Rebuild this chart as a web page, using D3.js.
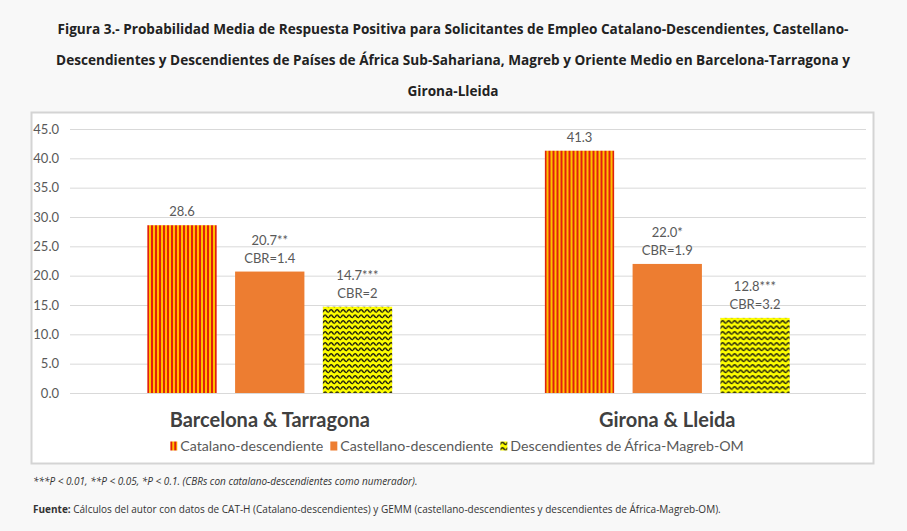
<!DOCTYPE html>
<html>
<head>
<meta charset="utf-8">
<script src="https://cdn.jsdelivr.net/npm/d3@7"></script>
<style>
  body { margin: 0; background: #f8f8f8; }
  svg { display: block; }
</style>
</head>
<body>
<div id="chart"></div>
<script>
// data
var groups = ["Barcelona & Tarragona", "Girona & Lleida"];
var series = ["Catalano-descendiente", "Castellano-descendiente", "Descendientes de África-Magreb-OM"];
var catalano = [28.6, 41.3];
var castellano = [20.7, 22.0];
var africa = [14.7, 12.8];
var castellanoSig = ["**", "*"];
var africaSig = ["***", "***"];
var castellanoCBR = ["1.4", "1.9"];
var africaCBR = ["2", "3.2"];
var yTicks = [0, 5, 10, 15, 20, 25, 30, 35, 40, 45];

var titleLines = [
  "Figura 3.- Probabilidad Media de Respuesta Positiva para Solicitantes de Empleo Catalano-Descendientes, Castellano-",
  "Descendientes y Descendientes de Países de África Sub-Sahariana, Magreb y Oriente Medio en Barcelona-Tarragona y",
  "Girona-Lleida"
];

var W = 907, H = 531;
var svg = d3.select("#chart").append("svg").attr("width", W).attr("height", H);

// patterns
var defs = svg.append("defs");
var stripes = defs.append("pattern").attr("id", "stripes")
  .attr("patternUnits", "userSpaceOnUse").attr("width", 4).attr("height", 4);
stripes.append("rect").attr("width", 4).attr("height", 4).attr("fill", "#ffc000");
stripes.append("rect").attr("width", 2).attr("height", 4).attr("fill", "#e0200f");

var wave = defs.append("pattern").attr("id", "wave")
  .attr("patternUnits", "userSpaceOnUse").attr("width", 6).attr("height", 5.5);
wave.append("rect").attr("width", 6).attr("height", 5.5).attr("fill", "#ffff00");
wave.append("path").attr("d", "M0,3.8 Q1.5,0.8 3,2 Q4.5,4.8 6,3.8")
  .attr("fill", "none").attr("stroke", "#111").attr("stroke-width", 1.3);

var fills = ["url(#stripes)", "#ed7d31", "url(#wave)"];

// title
svg.append("g").selectAll("text").data(titleLines).enter().append("text")
  .attr("x", 453).attr("y", function(d, i) { return 34 + i * 31; })
  .attr("text-anchor", "middle")
  .style("font-family", "'Open Sans', sans-serif")
  .style("font-weight", 700)
  .style("font-size", "13.6px")
  .style("fill", "#222")
  .text(function(d) { return d; });

// chart box
svg.append("rect").attr("x", 31.5).attr("y", 112.5).attr("width", 842).attr("height", 351)
  .attr("fill", "#fff").attr("stroke", "#d4d4d4").attr("stroke-width", 2);

// scales
var x0 = d3.scaleBand().domain(groups).range([71, 866]);
var x1 = d3.scaleBand().domain(series).range([0, x0.bandwidth()])
  .paddingInner(0.21).paddingOuter(0.87);
var y = d3.scaleLinear().domain([0, 45]).range([393, 129]);

// gridlines + y labels
var yAxis = svg.append("g").attr("transform", "translate(70,0)")
  .call(d3.axisLeft(y).tickValues(yTicks).tickSize(-796).tickFormat(d3.format(".1f")));
yAxis.select(".domain").remove();
yAxis.selectAll(".tick line").attr("stroke", "#d9d9d9").attr("stroke-width", 1);
yAxis.selectAll(".tick text").attr("x", -11)
  .style("font-family", "Lato, sans-serif").style("font-size", "13px").style("fill", "#595959");

// bars
var rows = groups.map(function(g, i) {
  return [
    {g: g, s: series[0], v: catalano[i], l1: catalano[i].toFixed(1), l2: null},
    {g: g, s: series[1], v: castellano[i], l1: castellano[i].toFixed(1) + castellanoSig[i], l2: "CBR=" + castellanoCBR[i]},
    {g: g, s: series[2], v: africa[i], l1: africa[i].toFixed(1) + africaSig[i], l2: "CBR=" + africaCBR[i]}
  ];
});

var grp = svg.selectAll(".grp").data(rows).enter().append("g")
  .attr("transform", function(d) { return "translate(" + x0(d[0].g) + ",0)"; });

grp.selectAll("rect").data(function(d) { return d; }).enter().append("rect")
  .attr("x", function(d) { return x1(d.s); })
  .attr("y", function(d) { return y(d.v); })
  .attr("width", x1.bandwidth())
  .attr("height", function(d) { return y(0) - y(d.v); })
  .attr("fill", function(d, i) { return fills[i]; });

var lab = grp.selectAll(".lab").data(function(d) { return d; }).enter().append("text")
  .attr("text-anchor", "middle")
  .attr("x", function(d) { return x1(d.s) + x1.bandwidth() / 2; })
  .attr("y", function(d) { return y(d.v) - (d.l2 ? 27 : 9); })
  .style("font-family", "Lato, sans-serif").style("font-size", "13px").style("fill", "#595959");
lab.append("tspan").text(function(d) { return d.l1; });
lab.filter(function(d) { return d.l2; }).append("tspan")
  .attr("x", function(d) { return x1(d.s) + x1.bandwidth() / 2; })
  .attr("dy", 18).text(function(d) { return d.l2; });

// category labels
svg.append("g").selectAll("text").data(groups).enter().append("text")
  .attr("x", function(d) { return x0(d) + x0.bandwidth() / 2; })
  .attr("y", 427).attr("text-anchor", "middle")
  .style("font-family", "Lato, sans-serif").style("font-weight", 700)
  .style("font-size", "20px").style("fill", "#404040")
  .text(function(d) { return d; });

// legend, centred under the plot
var legend = svg.append("g").attr("transform", "translate(0,446)");
var lx = 0;
series.forEach(function(s, i) {
  var item = legend.append("g").attr("transform", "translate(" + lx + ",0)");
  item.append("rect").attr("x", 0).attr("y", -4.5).attr("width", 7).attr("height", 9).attr("fill", fills[i]);
  var t = item.append("text").attr("x", 10).attr("y", 5)
    .style("font-family", "Lato, sans-serif").style("font-size", "14.2px").style("fill", "#595959")
    .text(s);
  lx += 10 + t.node().getComputedTextLength() + 7;
});
legend.attr("transform", "translate(" + (457 - (lx - 7) / 2) + ",446)");

// notes
svg.append("text").attr("x", 33).attr("y", 485)
  .style("font-family", "'Open Sans', sans-serif").style("font-style", "italic")
  .style("font-size", "10px").style("fill", "#333")
  .text("***P < 0.01, **P < 0.05, *P < 0.1. (CBRs con catalano-descendientes como numerador).");

var src = svg.append("text").attr("x", 33).attr("y", 513)
  .style("font-family", "'Open Sans', sans-serif")
  .style("font-size", "10px").style("fill", "#333");
src.append("tspan").style("font-weight", 700).text("Fuente:");
src.append("tspan").text(" Cálculos del autor con datos de CAT-H (Catalano-descendientes) y GEMM (castellano-descendientes y descendientes de África-Magreb-OM).");
</script>
</body>
</html>
